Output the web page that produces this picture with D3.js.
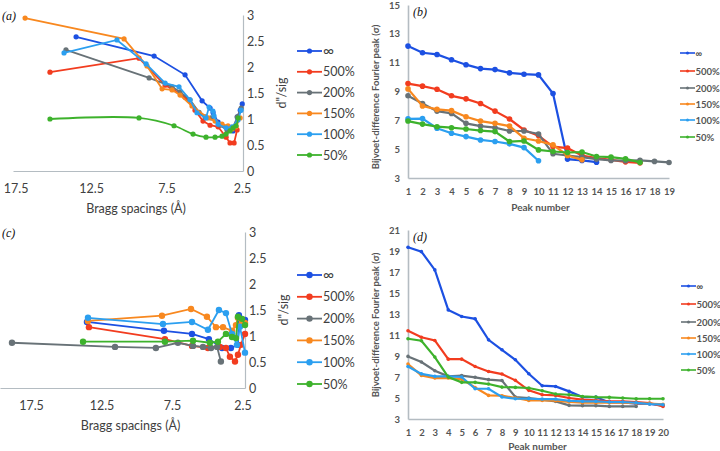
<!DOCTYPE html>
<html><head><meta charset="utf-8">
<script src="https://cdn.jsdelivr.net/npm/d3@7"></script>
<style>body{margin:0;background:#fff}svg{display:block}</style>
</head><body>
<svg id="c" width="720" height="451"></svg>
<script>
const seriesNames = ["∞","500%","200%","150%","100%","50%"];
const colors = ["#1c50e2","#f23c1f","#687277","#f8881f","#2b9ff0","#3db22c"];

// Panel (a): [Bragg spacing (Å), d''/sig]
const aInf = [[13.49,2.58],[8.32,2.21],[6.27,1.85],[5.14,1.35],[4.61,1.21],[4.41,1.12],[4.08,0.94],[3.42,0.83],[3.09,0.77],[2.81,1.04],[2.61,1.17],[2.48,1.29]];
const a500 = [[15.22,1.90],[9.32,2.17],[7.59,1.65],[7.13,1.58],[6.27,1.42],[5.61,1.17],[5.08,0.96],[4.61,0.88],[4.08,0.85],[3.55,0.65],[3.29,0.54],[3.02,0.54],[2.82,0.79]];
const a200 = [[14.16,2.33],[8.65,1.79],[7.13,1.62],[6.6,1.52],[5.94,1.37],[5.34,1.13],[4.94,1.04],[4.54,1.02],[3.95,0.88],[3.49,0.79],[3.09,0.83],[2.81,1.04],[2.55,1.21]];
const a150 = [[16.87,2.94],[10.31,2.54],[8.79,2.02],[7.79,1.58],[7.13,1.56],[6.6,1.46],[5.81,1.25],[4.75,1.02],[4.28,0.96],[3.82,0.90],[3.42,0.87],[3.16,0.81],[2.89,0.85],[2.62,1.02]];
const a100 = [[14.29,2.27],[10.78,2.52],[8.85,2.06],[7.59,1.69],[6.67,1.62],[5.94,1.37],[5.48,1.12],[4.88,1.02],[4.68,1.23],[4.42,1.15],[4.35,1.06],[4.08,0.90],[3.55,0.83],[3.16,0.85],[2.76,0.98],[2.56,1.17]];
const a50 = [[15.22,1.0],[9.32,1.02],[7.0,0.87],[5.74,0.71],[4.88,0.65],[4.28,0.65],[3.82,0.67],[3.55,0.71],[3.29,0.77],[3.09,0.83],[2.89,0.87],[2.75,1.02]];

// Panel (c)
const cInf = [[13.53,1.27],[8.07,1.10],[6.08,1.04],[4.88,0.94],[3.95,0.77],[3.32,0.77],[2.82,0.83],[2.75,1.40],[2.32,1.31]];
const c500 = [[13.39,1.17],[8.0,0.94],[6.08,0.81],[4.95,0.77],[4.10,0.79],[3.67,0.77],[3.39,0.60],[3.03,0.51],[2.82,0.64],[2.61,0.83],[2.32,1.04]];
const c200 = [[18.85,0.87],[11.54,0.79],[8.64,0.77],[7.08,0.87],[6.01,0.81],[5.3,0.79],[4.73,0.77],[4.3,0.79],[4.03,0.51]];
const c150 = [[13.46,1.29],[8.21,1.39],[6.15,1.52],[5.02,1.37],[4.38,1.17],[3.88,1.17],[3.24,1.10],[2.96,1.21],[2.82,1.35],[2.53,1.27],[2.32,1.25]];
const c100 = [[13.46,1.35],[8.14,1.23],[6.08,1.27],[4.95,1.12],[4.17,1.50],[3.67,1.44],[3.24,1.04],[2.89,0.83],[2.68,1.18],[2.32,0.68]];
const c50 = [[13.81,0.89],[8.0,0.89],[6.01,0.91],[4.81,0.87],[4.24,0.89],[3.67,1.04],[3.24,0.98],[2.96,0.96],[2.82,1.37],[2.53,1.33],[2.32,1.21]];

// Panel (b): peak heights by peak number
const bInf = [12.15,11.69,11.57,11.2,10.86,10.59,10.52,10.29,10.2,10.15,8.86,4.31,4.22,4.1];
const b500 = [9.55,9.37,9.16,8.7,8.49,8.17,7.64,7.09,6.33,5.94,5.18,5.07,4.56,4.38,4.26,4.12,4.05];
const b200 = [8.7,8.17,7.64,7.48,6.79,6.6,6.49,6.26,6.26,6.05,4.68,4.56,4.45,4.31,4.22,4.2,4.22,4.15,4.08];
const b150 = [9.18,7.99,7.76,7.67,7.25,6.95,6.79,6.6,5.76,5.57,5.3,4.56,4.26];
const b100 = [7.1,7.12,6.45,6.1,5.87,5.64,5.53,5.37,5.11,4.2];
const b50 = [6.95,6.74,6.56,6.49,6.4,6.29,6.22,5.53,5.57,4.95,4.84,4.77,4.8,4.49,4.45,4.33,4.08];

// Panel (d)
const dInf = [19.35,18.94,17.2,13.39,12.76,12.54,10.54,9.59,8.64,7.31,6.17,6.1,5.63,5.09,5.09,4.58,4.58,4.46,4.43,4.3];
const d500 = [11.4,10.79,10.48,8.7,8.7,8.0,7.53,7.28,6.68,5.73,5.31,5.25,5.0,4.84,4.77,4.68,4.68,4.62,4.52,4.2];
const d200 = [8.96,8.43,7.6,7.06,7.13,6.97,6.75,6.66,5.09,5.0,4.84,4.68,4.3,4.27,4.27,4.2,4.2,4.2];
const d150 = [8.23,7.15,6.9,6.9,6.8,6.0,5.25,5.22,5.0,4.77,4.77,4.74,4.62,4.55,4.55,4.55,4.55,4.5,4.46,4.4];
const d100 = [8.0,7.3,7.06,7.06,7.0,5.88,5.88,5.09,4.93,4.93,4.9,4.9,4.74,4.68,4.68,4.62,4.62,4.55,4.43,4.36];
const d50 = [10.64,10.45,8.9,6.99,6.49,6.49,6.33,6.04,6.01,5.95,5.69,5.38,5.31,5.15,5.09,5.06,5.0,4.93,4.93,4.93];

const braggTicks = [17.5,12.5,7.5,2.5];
const sigTicks = [0,0.5,1,1.5,2,2.5,3];

const svg = d3.select("#c");
const axisCol = "#b4bcc2";
const F1 = "Lato, 'Open Sans', sans-serif";

function braggPanel(o){
  const g = svg.append("g");
  const x = d3.scaleLinear().domain(o.xd).range(o.xr);
  const y = d3.scaleLinear().domain([0,3]).range(o.yr);
  const xa = g.append("g").attr("transform",`translate(0,${o.yr[0]})`)
    .call(d3.axisBottom(x).tickValues(braggTicks).tickSize(0).tickPadding(13).tickFormat(d3.format(".1f")));
  const ya = g.append("g").attr("transform",`translate(${o.xr[1]},0)`)
    .call(d3.axisRight(y).tickValues(sigTicks).tickSize(0).tickPadding(4).tickFormat(d=>String(d)));
  [xa,ya].forEach(a=>{
    a.select(".domain").attr("stroke",axisCol).attr("stroke-width",1.2);
    a.selectAll("text").attr("fill","#404040").style("font-family",F1).style("font-size","12.5px");
  });
  o.data.forEach((ser,i)=>{
    const line = d3.line().x(d=>x(d[0])).y(d=>y(d[1]));
    if(o.smooth && i===5) line.curve(d3.curveCatmullRom.alpha(0.5));
    g.append("path").datum(ser).attr("d",line).attr("fill","none")
      .attr("stroke",colors[i]).attr("stroke-width",1.8);
    g.selectAll(null).data(ser).enter().append("circle")
      .attr("cx",d=>x(d[0])).attr("cy",d=>y(d[1])).attr("r",o.r).attr("fill",colors[i]);
  });
  g.append("text").attr("x",(o.xr[0]+o.xr[1])/2+8).attr("y",o.yr[0]+42).attr("text-anchor","middle")
    .attr("fill","#404040").style("font-family",F1).style("font-size","12.5px")
    .text("Bragg spacings (Å)");
  g.append("text").attr("transform",`translate(${o.xr[1]+43},${(o.yr[0]+o.yr[1])/2}) rotate(-90)`)
    .attr("text-anchor","middle").attr("fill","#404040")
    .style("font-family",F1).style("font-size","12.5px").text('d"/sig');
  g.append("text").attr("x",2).attr("y",o.yr[1]+5).attr("fill","#111")
    .style("font-family","'Liberation Serif', serif").style("font-style","italic").style("font-size","12px")
    .text(o.label);
  seriesNames.forEach((n,i)=>{
    const ly = o.ly0 + i*o.lstep;
    g.append("line").attr("x1",o.lx).attr("x2",o.lx+25).attr("y1",ly).attr("y2",ly)
      .attr("stroke",colors[i]).attr("stroke-width",1.8);
    g.append("circle").attr("cx",o.lx+12.5).attr("cy",ly).attr("r",o.r).attr("fill",colors[i]);
    g.append("text").attr("x",o.lx+26).attr("y",ly+4.5).attr("fill","#404040")
      .style("font-family",F1).style("font-size",i===0?"15px":"12.5px").text(n);
  });
}

braggPanel({xd:[17.67,2.43],xr:[13,243],yr:[171,15],data:[aInf,a500,a200,a150,a100,a50],
  smooth:true,r:2.6,label:"(a)",lx:297,ly0:51,lstep:20.8});
braggPanel({xd:[19.7,2.32],xr:[0,245],yr:[388,232],data:[cInf,c500,c200,c150,c100,c50],
  smooth:false,r:3.2,label:"(c)",lx:297,ly0:275,lstep:21.8});

function peakPanel(o){
  const g = svg.append("g");
  const n = o.nmax;
  const x = d3.scaleLinear().domain([1,n]).range(o.xr);
  const y = d3.scaleLinear().domain([3,o.ymax]).range(o.yr);
  const xa = g.append("g").attr("transform",`translate(0,${o.yr[0]})`)
    .call(d3.axisBottom(x).tickValues(d3.range(1,n+1)).tickSize(0).tickPadding(10).tickFormat(d3.format("d")));
  const ya = g.append("g").attr("transform",`translate(${o.xr[0]},0)`)
    .call(d3.axisLeft(y).tickValues(d3.range(3,o.ymax+1,2)).tickSize(0).tickPadding(8).tickFormat(d3.format("d")));
  [xa,ya].forEach(a=>{
    a.select(".domain").attr("stroke",axisCol).attr("stroke-width",1.6);
    a.selectAll("text").attr("fill","#555").style("font-family",F1).style("font-weight","700").style("font-size","9.5px");
  });
  o.data.forEach((ser,i)=>{
    const line = d3.line().x((d,k)=>x(k+1)).y(d=>y(d));
    g.append("path").datum(ser).attr("d",line).attr("fill","none")
      .attr("stroke",colors[i]).attr("stroke-width",2.2);
    g.selectAll(null).data(ser).enter().append("circle")
      .attr("cx",(d,k)=>x(k+1)).attr("cy",d=>y(d)).attr("r",o.r).attr("fill",colors[i]);
  });
  g.append("text").attr("x",(o.xr[0]+o.xr[1])/2+2).attr("y",o.yr[0]+o.xtY).attr("text-anchor","middle")
    .attr("fill","#555").style("font-family",F1).style("font-weight","700").style("font-size","10px")
    .text("Peak number");
  g.append("text").attr("transform",`translate(${o.xr[0]-29},${o.ytC}) rotate(-90)`)
    .attr("text-anchor","middle").attr("fill","#555")
    .style("font-family",F1).style("font-weight","700").style("font-size","9.5px")
    .text("Bijvoet-difference Fourier peak (σ)");
  g.append("text").attr("x",o.xr[0]+5).attr("y",o.yr[1]+11).attr("fill","#111")
    .style("font-family","'Liberation Serif', serif").style("font-style","italic").style("font-size","12px")
    .text(o.label);
  seriesNames.forEach((s,i)=>{
    const ly = o.ly[i];
    g.append("line").attr("x1",o.lx).attr("x2",o.lx+15).attr("y1",ly).attr("y2",ly)
      .attr("stroke",colors[i]).attr("stroke-width",1.6);
    g.append("circle").attr("cx",o.lx+7.5).attr("cy",ly).attr("r",1.5).attr("fill",colors[i]);
    g.append("text").attr("x",o.lx+15.5).attr("y",ly+3.5).attr("fill","#555")
      .style("font-family",F1).style("font-weight","700").style("font-size","9.5px").text(s);
  });
}

peakPanel({nmax:19,ymax:15,xr:[408,669],yr:[178,5],data:[bInf,b500,b200,b150,b100,b50],r:2.8,
  xtY:33,ytC:97,label:"(b)",lx:680,ly:[53,71,88,104,120,137]});
peakPanel({nmax:20,ymax:21,xr:[408,663],yr:[419,230],data:[dInf,d500,d200,d150,d100,d50],r:1.8,
  xtY:31,ytC:325,label:"(d)",lx:681,ly:[286,304,322,338,354,370]});
</script>
</body></html>
